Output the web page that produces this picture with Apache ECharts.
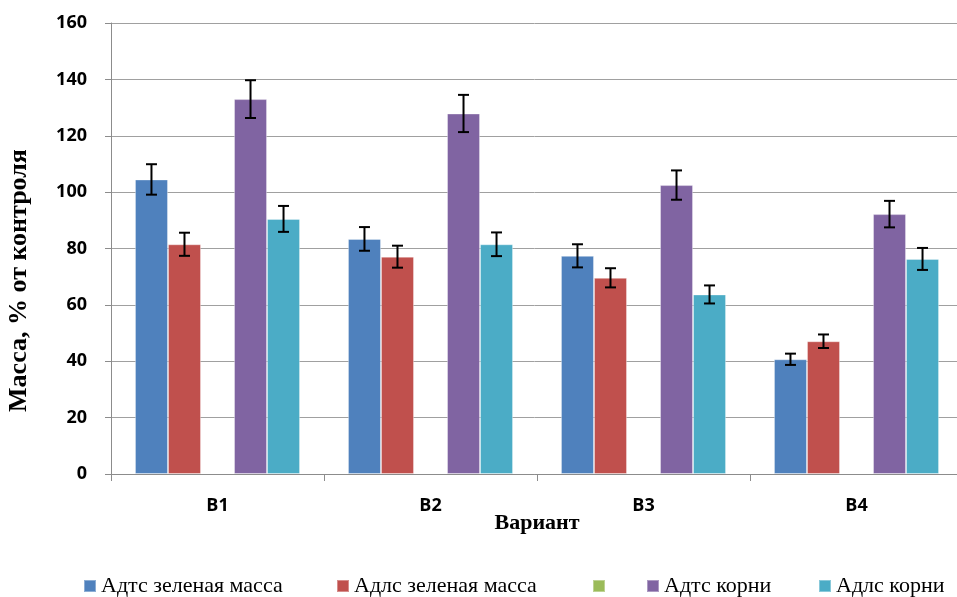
<!DOCTYPE html>
<html><head><meta charset="utf-8">
<script src="https://cdn.jsdelivr.net/npm/echarts@6/dist/echarts.min.js"></script>
<style>html,body{margin:0;padding:0;background:#fff}#c{width:957px;height:597px}</style>
</head><body><div id="c"></div>
<script>
const categories = ['В1', 'В2', 'В3', 'В4'];
const seriesNames = ['Адтс зеленая масса', 'Адлс зеленая масса', ' ', 'Адтс корни', 'Адлс корни'];
const adtsGreen = [104.5, 83.4, 77.4, 40.7];
const adlsGreen = [81.5, 77.1, 69.6, 47.1];
const emptySeries = [null, null, null, null];
const adtsRoots = [133.0, 127.9, 102.5, 92.2];
const adlsRoots = [90.5, 81.5, 63.7, 76.3];
const adtsGreenErr = [5.4, 4.2, 4.1, 2.0];
const adlsGreenErr = [4.1, 3.9, 3.4, 2.4];
const emptyErr = [null, null, null, null];
const adtsRootsErr = [6.7, 6.6, 5.2, 4.7];
const adlsRootsErr = [4.6, 4.2, 3.2, 3.9];
const yTicks = [0, 20, 40, 60, 80, 100, 120, 140, 160];

const colors = ['#4F81BD', '#C0504D', '#9BBB59', '#8064A2', '#4BACC6'];
const values = [adtsGreen, adlsGreen, emptySeries, adtsRoots, adlsRoots];
const errs = [adtsGreenErr, adlsGreenErr, emptyErr, adtsRootsErr, adlsRootsErr];
const nSeries = values.length;
const catGap = 0.225;
const legendLefts = [83, 336, 592, 646, 818];

const series = [];
values.forEach((v, i) => {
  series.push({
    name: seriesNames[i], type: 'bar', data: v, barGap: 0, barCategoryGap: (catGap * 100) + '%',
    itemStyle: { color: colors[i], borderColor: 'rgba(255,255,255,0.35)', borderWidth: 1 },
    emphasis: { disabled: true }, animation: false
  });
});
values.forEach((v, i) => {
  const data = v.map((val, k) => val == null ? null : [k, val, errs[i][k]]).filter(d => d);
  if (!data.length) return;
  series.push({
    type: 'custom', silent: true, animation: false, z: 10,
    data: data,
    renderItem: function (params, api) {
      const k = api.value(0), val = api.value(1), e = api.value(2);
      const cw = api.size([1, 0])[0];
      const group = cw * (1 - catGap);
      const bw = group / nSeries;
      const base = api.coord([k, val]);
      const x = base[0] - group / 2 + bw * (i + 0.5);
      const yTop = api.coord([k, val + e])[1];
      const yBot = api.coord([k, val - e])[1];
      const cap = 5.5;
      const st = { stroke: '#000', lineWidth: 2 };
      return { type: 'group', children: [
        { type: 'line', shape: { x1: x, y1: yTop, x2: x, y2: yBot }, style: st },
        { type: 'line', shape: { x1: x - cap, y1: yTop, x2: x + cap, y2: yTop }, style: st },
        { type: 'line', shape: { x1: x - cap, y1: yBot, x2: x + cap, y2: yBot }, style: st }
      ] };
    }
  });
});

const legends = seriesNames.map((n, i) => ({
  data: [n], top: 575, left: legendLefts[i], itemWidth: 12, itemHeight: 12, itemGap: 4,
  icon: 'rect', selectedMode: false, padding: 0,
  textStyle: { fontFamily: 'Liberation Serif', fontSize: 22, color: '#000', padding: [0, 0, 0, 0] }
}));

const chart = echarts.init(document.getElementById('c'), null, { renderer: 'canvas' });
chart.setOption({
  animation: false,
  color: colors,
  grid: { left: 111, top: 23, width: 852, height: 451, containLabel: false, outerBoundsMode: 'none' },
  legend: legends,
  xAxis: {
    type: 'category', data: categories,
    axisLine: { lineStyle: { color: '#8c8c8c', width: 1 } },
    axisTick: { show: true, length: 7, lineStyle: { color: '#8c8c8c' } },
    axisLabel: { color: '#000', fontWeight: 'bold', fontSize: 18, fontFamily: 'Open Sans', margin: 23 },
    name: 'Вариант', nameLocation: 'middle', nameGap: 38, nameMoveOverlap: false,
    nameTextStyle: { fontFamily: 'Liberation Serif', fontWeight: 'bold', fontSize: 22, color: '#000' }
  },
  yAxis: {
    type: 'value', min: 0, max: 160, interval: 20,
    axisLine: { show: true, lineStyle: { color: '#8c8c8c' } },
    axisTick: { show: true, length: 6, lineStyle: { color: '#8c8c8c' } },
    splitLine: { lineStyle: { color: '#a0a0a0', width: 1 } },
    axisLabel: { color: '#000', fontWeight: 'bold', fontSize: 18, fontFamily: 'Open Sans', margin: 24,
      formatter: v => yTicks.includes(v) ? String(v) : '' },
    name: 'Масса, % от контроля', nameLocation: 'middle', nameGap: 79, nameRotate: 90,
    nameTextStyle: { fontFamily: 'Liberation Serif', fontWeight: 'bold', fontSize: 26, color: '#000', padding: [0, 64, 0, 0] }
  },
  series: series
});
</script></body></html>
